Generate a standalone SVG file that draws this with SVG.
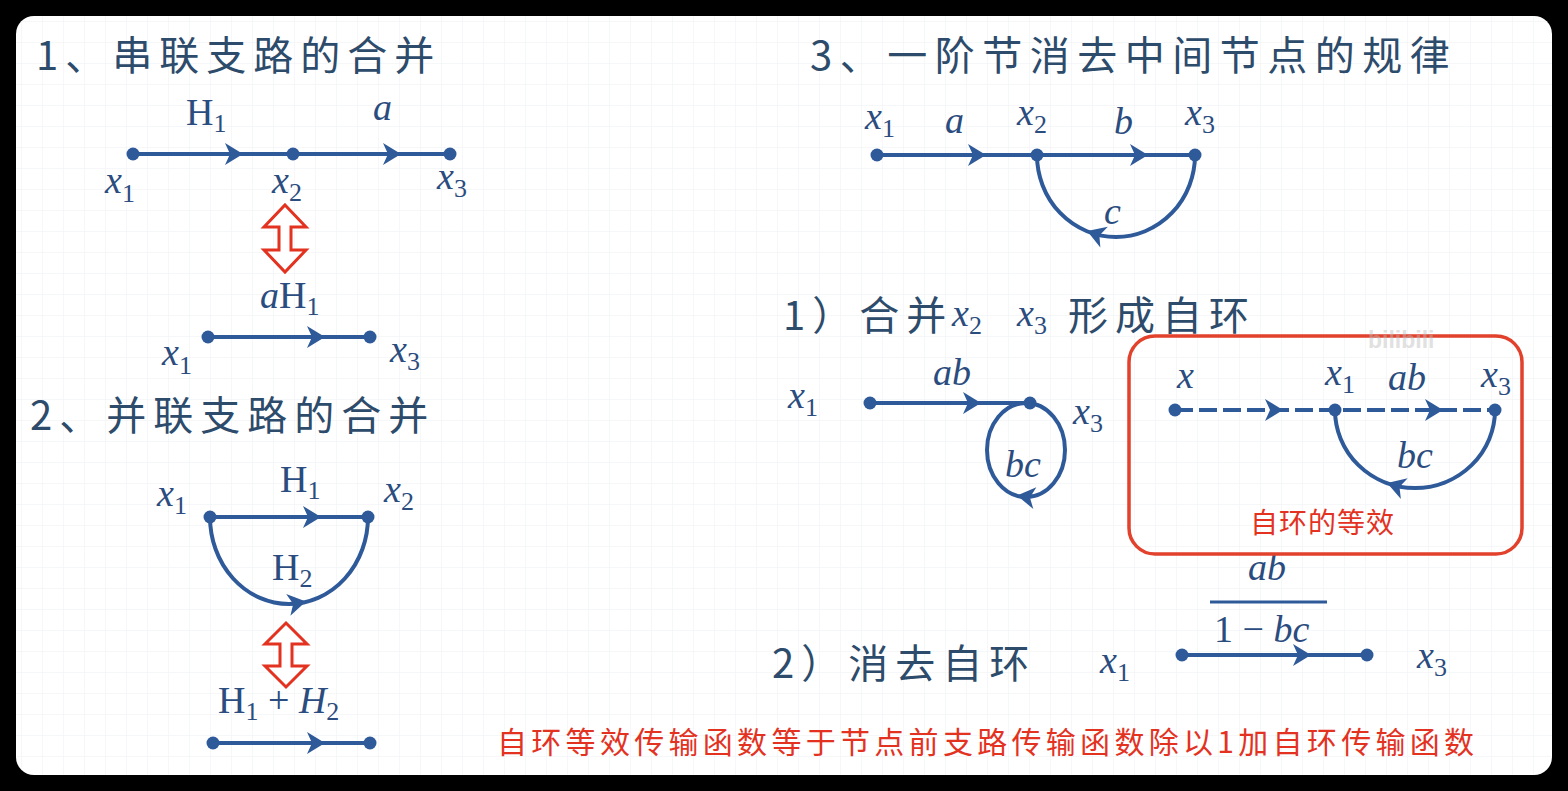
<svg xmlns="http://www.w3.org/2000/svg" xmlns:xlink="http://www.w3.org/1999/xlink" width="1568" height="791" viewBox="0 0 1568 791">
<style>
.h{font-family:"Noto Sans CJK SC","Noto Sans",sans-serif;font-size:40px;fill:#2d4b6b;letter-spacing:7px}
.m{font-family:"Liberation Serif","DejaVu Serif",serif;font-size:38px;fill:#2b4c7e}
.i{font-style:italic}
.s{font-size:26px;font-style:normal}
.ln{stroke:#2f5a9a;stroke-width:4;fill:none}
.nd{fill:#2f5a9a}
.ah{fill:#2f5a9a}
.dbl{fill:#fff;stroke:#e3321f;stroke-width:3;stroke-linejoin:miter}
.red{font-family:"Noto Sans CJK SC",sans-serif;fill:#e3321f}
</style>
<defs>
<pattern id="grid" width="21" height="21" patternUnits="userSpaceOnUse">
<path d="M21,0 L0,0 0,21" fill="none" stroke="#eef0f3" stroke-width="1"/>
</pattern>
<path id="arr" d="M3,0 L-15,-11 L-10,0 L-15,11 Z"/>
</defs>
<rect x="0" y="0" width="1568" height="791" fill="#000"/>
<rect x="16" y="16" width="1536" height="759" rx="18" fill="#fff"/>
<rect x="16" y="16" width="1536" height="759" rx="18" fill="url(#grid)"/>

<!-- headings -->
<g id="titles">
<text class="h" x="36" y="70">1、串联支路的合并</text>
<text class="h" x="30" y="430">2、并联支路的合并</text>
<text class="h" x="810" y="70" style="letter-spacing:7.5px">3、一阶节消去中间节点的规律</text>
<text class="h" x="783" y="330">1）合并</text>
<text class="m" x="952" y="326"><tspan class="i">x</tspan><tspan class="s" dy="8">2</tspan></text>
<text class="m" x="1017" y="326"><tspan class="i">x</tspan><tspan class="s" dy="8">3</tspan></text>
<text class="h" x="1068" y="330">形成自环</text>
<text class="h" x="772" y="678">2）消去自环</text>
</g>

<!-- connectors -->
<g id="connectors">
<line class="ln" x1="133" y1="154" x2="450" y2="154"/>
<use xlink:href="#arr" class="ah" transform="translate(240,154)"/>
<use xlink:href="#arr" class="ah" transform="translate(398,154)"/>
<line class="ln" x1="208" y1="337" x2="370" y2="337"/>
<use xlink:href="#arr" class="ah" transform="translate(322,337)"/>

<line class="ln" x1="210" y1="517" x2="368" y2="517"/>
<use xlink:href="#arr" class="ah" transform="translate(318,517)"/>
<path class="ln" d="M210,517 A79,87 0 0 0 368,517"/>
<use xlink:href="#arr" class="ah" transform="translate(303,602) rotate(-11)"/>
<line class="ln" x1="213" y1="743" x2="370" y2="743"/>
<use xlink:href="#arr" class="ah" transform="translate(322,743)"/>

<line class="ln" x1="877" y1="155" x2="1195" y2="155"/>
<use xlink:href="#arr" class="ah" transform="translate(983,155)"/>
<use xlink:href="#arr" class="ah" transform="translate(1145,155)"/>
<path class="ln" d="M1037,155 A79,82 0 0 0 1195,155"/>
<use xlink:href="#arr" class="ah" transform="translate(1090,232) rotate(200)"/>

<line class="ln" x1="870" y1="403" x2="1030" y2="403"/>
<use xlink:href="#arr" class="ah" transform="translate(978,403)"/>
<ellipse class="ln" cx="1026" cy="450" rx="39" ry="47"/>
<use xlink:href="#arr" class="ah" transform="translate(1020,496) rotate(188)"/>

<line class="ln" x1="1175" y1="410" x2="1495" y2="410" stroke-dasharray="18 6"/>
<use xlink:href="#arr" class="ah" transform="translate(1280,410)"/>
<use xlink:href="#arr" class="ah" transform="translate(1440,410)"/>
<path class="ln" d="M1335,410 A80,78 0 0 0 1495,410"/>
<use xlink:href="#arr" class="ah" transform="translate(1390,484) rotate(198)"/>

<line class="ln" x1="1182" y1="655" x2="1367" y2="655"/>
<use xlink:href="#arr" class="ah" transform="translate(1308,655)"/>
</g>

<!-- equivalence arrows -->
<g id="equiv1"><polygon class="dbl" points="285,205 306,227 291,227 291,250 306,250 285,272 264,250 279,250 279,227 264,227"/></g>
<g id="equiv2"><polygon class="dbl" points="286,623 307,644 292,644 292,666 307,666 286,687 265,666 280,666 280,644 265,644"/></g>

<!-- edge labels -->
<g id="edge-labels">
<text class="m" x="186" y="125">H<tspan class="s" dy="7">1</tspan></text>
<text class="m i" x="373" y="120">a</text>
<text class="m" x="260" y="308"><tspan class="i">a</tspan>H<tspan class="s" dy="7">1</tspan></text>
<text class="m" x="280" y="492">H<tspan class="s" dy="7">1</tspan></text>
<text class="m" x="272" y="580">H<tspan class="s" dy="7">2</tspan></text>
<text class="m" x="218" y="713">H<tspan class="s" dy="7">1</tspan><tspan dy="-7"> + </tspan><tspan class="i">H</tspan><tspan class="s" dy="7">2</tspan></text>
<text class="m i" x="945" y="133">a</text>
<text class="m i" x="1114" y="134">b</text>
<text class="m i" x="1104" y="224">c</text>
<text class="m i" x="933" y="385">ab</text>
<text class="m i" x="1005" y="477">bc</text>
<text class="m i" x="1388" y="390">ab</text>
<text class="m i" x="1397" y="468">bc</text>
<text class="m i" x="1248" y="580">ab</text>
<line x1="1210" y1="602" x2="1327" y2="602" stroke="#2f5a9a" stroke-width="3"/>
<text class="m" x="1214" y="642">1 − <tspan class="i">bc</tspan></text>
</g>

<!-- nodes -->
<g id="n1-x1"><circle class="nd" cx="133" cy="154" r="6.5"/><text class="m" x="105" y="193"><tspan class="i">x</tspan><tspan class="s" dy="9">1</tspan></text></g>
<g id="n1-x2"><circle class="nd" cx="293" cy="154" r="6.5"/><text class="m" x="272" y="193"><tspan class="i">x</tspan><tspan class="s" dy="8">2</tspan></text></g>
<g id="n1-x3"><circle class="nd" cx="450" cy="154" r="6.5"/><text class="m" x="437" y="189"><tspan class="i">x</tspan><tspan class="s" dy="8">3</tspan></text></g>
<g id="n1b-x1"><circle class="nd" cx="208" cy="337" r="6.5"/><text class="m" x="162" y="365"><tspan class="i">x</tspan><tspan class="s" dy="9">1</tspan></text></g>
<g id="n1b-x3"><circle class="nd" cx="370" cy="337" r="6.5"/><text class="m" x="390" y="362"><tspan class="i">x</tspan><tspan class="s" dy="8">3</tspan></text></g>

<g id="n2-x1"><circle class="nd" cx="210" cy="517" r="6.5"/><text class="m" x="157" y="506"><tspan class="i">x</tspan><tspan class="s" dy="8">1</tspan></text></g>
<g id="n2-x2"><circle class="nd" cx="368" cy="517" r="6.5"/><text class="m" x="384" y="502"><tspan class="i">x</tspan><tspan class="s" dy="8">2</tspan></text></g>
<g id="n2b-a"><circle class="nd" cx="213" cy="743" r="6.5"/></g>
<g id="n2b-b"><circle class="nd" cx="370" cy="743" r="6.5"/></g>

<g id="n3-x1"><circle class="nd" cx="877" cy="155" r="6.5"/><text class="m" x="865" y="129"><tspan class="i">x</tspan><tspan class="s" dy="8">1</tspan></text></g>
<g id="n3-x2"><circle class="nd" cx="1037" cy="155" r="6.5"/><text class="m" x="1017" y="125"><tspan class="i">x</tspan><tspan class="s" dy="8">2</tspan></text></g>
<g id="n3-x3"><circle class="nd" cx="1195" cy="155" r="6.5"/><text class="m" x="1185" y="125"><tspan class="i">x</tspan><tspan class="s" dy="8">3</tspan></text></g>

<g id="n4-x1"><circle class="nd" cx="870" cy="403" r="6.5"/><text class="m" x="788" y="408"><tspan class="i">x</tspan><tspan class="s" dy="8">1</tspan></text></g>
<g id="n4-x3"><circle class="nd" cx="1030" cy="403" r="6.5"/><text class="m" x="1073" y="424"><tspan class="i">x</tspan><tspan class="s" dy="8">3</tspan></text></g>

<g id="box">
<rect x="1129" y="336" width="393" height="218" rx="26" fill="none" stroke="#e2412c" stroke-width="3.5"/>
<text class="red" x="1250" y="533" style="font-size:28px;letter-spacing:1px">自环的等效</text>
</g>
<g id="n5-x"><circle class="nd" cx="1175" cy="410" r="6.5"/><text class="m i" x="1177" y="388">x</text></g>
<g id="n5-x1"><circle class="nd" cx="1335" cy="410" r="6.5"/><text class="m" x="1325" y="385"><tspan class="i">x</tspan><tspan class="s" dy="8">1</tspan></text></g>
<g id="n5-x3"><circle class="nd" cx="1495" cy="410" r="6.5"/><text class="m" x="1481" y="387"><tspan class="i">x</tspan><tspan class="s" dy="8">3</tspan></text></g>

<g id="n6-x1"><circle class="nd" cx="1182" cy="655" r="6.5"/><text class="m" x="1100" y="673"><tspan class="i">x</tspan><tspan class="s" dy="8">1</tspan></text></g>
<g id="n6-x3"><circle class="nd" cx="1367" cy="655" r="6.5"/><text class="m" x="1417" y="668"><tspan class="i">x</tspan><tspan class="s" dy="8">3</tspan></text></g>

<g id="note">
<text class="red" x="497" y="753" style="font-size:30px;letter-spacing:4.3px">自环等效传输函数等于节点前支路传输函数除以1加自环传输函数</text>
</g>
<g id="watermark" opacity="0.45">
<text x="1368" y="348" style="font-family:'Liberation Sans',sans-serif;font-size:23px;font-weight:bold;fill:#bdbdbd">bilibili</text>
</g>
</svg>
